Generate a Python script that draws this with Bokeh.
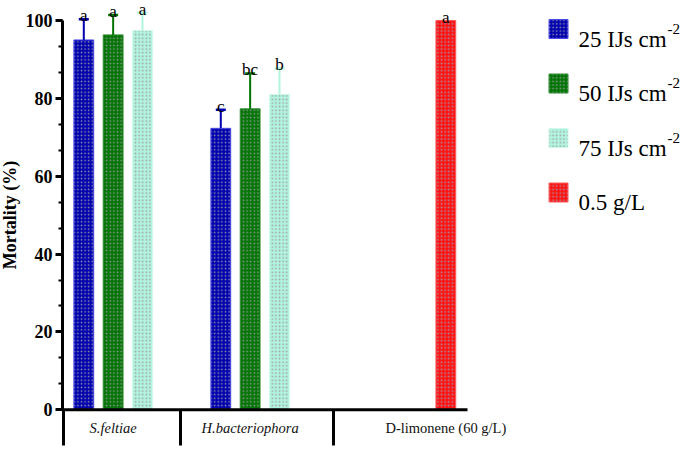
from bokeh.plotting import figure
from bokeh.models import Range1d, SingleIntervalTicker, ColumnDataSource
from bokeh.core.properties import value
from bokeh.embed import file_html
from bokeh.resources import INLINE

# ---------------- data ----------------
groups = ["S.feltiae", "H.bacteriophora", "D-limonene (60 g/L)"]
group_styles = ["italic", "italic", "normal"]
series_names = ["25 IJs cm", "50 IJs cm", "75 IJs cm", "0.5 g/L"]
series_sup = ["-2", "-2", "-2", ""]
series_colors = ["#0000b0", "#007400", "#b2f4dd", "#ff1414"]
series_edges = ["#4848e8", "#2a8a2a", "#cdfbec", "#ff5a5a"]

mort_25 = [95.0, 72.3, None]
mort_50 = [96.3, 77.3, None]
mort_75 = [97.4, 81.0, None]
mort_dlim = [None, None, 100.0]

err_25 = [5.3, 4.8, None]
err_50 = [5.1, 9.1, None]
err_75 = [4.6, 6.7, None]
err_dlim = [None, None, None]

letters_25 = ["a", "c", ""]
letters_50 = ["a", "bc", ""]
letters_75 = ["a", "b", ""]
letters_dlim = ["", "", "a"]

y_ticks = [0, 20, 40, 60, 80, 100]

# ---------------- layout ----------------
FONT = "Liberation Serif"
X0_PX, PX_PER_X = 83.3, 137.0      # canvas px of x=0, px per x unit
Y0_PX, PX_PER_Y = 409.3, 3.893     # canvas px of y=0, px per y unit
SLOT = 0.2142
BAR_W = 0.1445
AXIS_PX = 62
HATCH = dict(hatch_pattern="dot", hatch_color="#9a9aa6", hatch_scale=3.6,
             hatch_weight=1.1, hatch_alpha=0.9)


def px_x(px):
    return (px - X0_PX) / PX_PER_X


def px_y(py):
    return (Y0_PX - py) / PX_PER_Y


W, H = 685, 452
p = figure(width=W, height=H, output_backend="svg", toolbar_location=None,
           x_range=Range1d(px_x(0), px_x(W)),
           y_range=Range1d(px_y(H), px_y(0)),
           min_border_left=0, min_border_right=0, min_border_top=0,
           min_border_bottom=0)
p.outline_line_color = None
p.grid.visible = False
p.xaxis.visible = False
p.background_fill_color = "white"
p.border_fill_color = "white"

yax = p.yaxis[0]
yax.fixed_location = px_x(AXIS_PX)
yax.ticker = SingleIntervalTicker(interval=20, num_minor_ticks=3)
yax.bounds = (y_ticks[0], y_ticks[-1])
yax.axis_line_width = 3
yax.major_tick_line_width = 3
yax.minor_tick_line_width = 2
yax.major_tick_out = 7
yax.major_tick_in = 0
yax.minor_tick_out = 4
yax.minor_tick_in = 0
yax.major_label_standoff = 3
yax.major_label_text_font = FONT
yax.major_label_text_font_style = "bold"
yax.major_label_text_font_size = "18px"
yax.major_label_text_color = "black"
yax.axis_label = "Mortality (%)"
yax.axis_label_standoff = 3
yax.axis_label_text_font = FONT
yax.axis_label_text_font_style = "bold"
yax.axis_label_text_font_size = "18px"
yax.axis_label_text_color = "black"

# ---------------- bars ----------------
all_vals = [mort_25, mort_50, mort_75, mort_dlim]
all_errs = [err_25, err_50, err_75, err_dlim]
all_lets = [letters_25, letters_50, letters_75, letters_dlim]

bx, btop, bcol, bedge = [], [], [], []
ex, e0, e1, ecol = [], [], [], []
lx, ly, ltxt = [], [], []
group_x = {g: [] for g in range(len(groups))}
for s, (vals, errs, lets) in enumerate(zip(all_vals, all_errs, all_lets)):
    for g, v in enumerate(vals):
        if v is None:
            continue
        x = g + s * SLOT
        bx.append(x); btop.append(v)
        bcol.append(series_colors[s]); bedge.append(series_edges[s])
        group_x[g].append(x)
        top = v
        if errs[g]:
            top = v + errs[g]
            ex.append(x); e0.append(v); e1.append(top); ecol.append(series_colors[s])
        if lets[g]:
            lx.append(x); ly.append(top + 3.5 / PX_PER_Y); ltxt.append(lets[g])

p.vbar(x=bx, top=btop, bottom=0, width=BAR_W, fill_color=bcol, line_color=bedge,
       line_width=1, **HATCH)

cap = 5 / PX_PER_X
p.segment(x0=ex, y0=e0, x1=ex, y1=e1, line_color=ecol, line_width=2)
p.segment(x0=[x - cap for x in ex], y0=e1, x1=[x + cap for x in ex], y1=e1,
          line_color=ecol, line_width=2.5)

p.text(x=lx, y=ly, text=ltxt, text_align="center", text_baseline="alphabetic",
       text_font=value(FONT), text_font_size="17px", text_color="black")

# ---------------- category axis ----------------
p.segment(x0=[px_x(AXIS_PX - 1)], y0=[0], x1=[px_x(467)], y1=[0],
          line_color="black", line_width=3)
sep_px = [63, 180, 333]
p.segment(x0=[px_x(v) for v in sep_px], y0=[0] * 3,
          x1=[px_x(v) for v in sep_px], y1=[px_y(445)] * 3,
          line_color="black", line_width=3)
gsrc = ColumnDataSource(dict(
    x=[sum(group_x[g]) / len(group_x[g]) for g in range(len(groups))],
    y=[px_y(427)] * len(groups), text=groups, style=group_styles))
p.text(x="x", y="y", text="text", source=gsrc, text_align="center",
       text_baseline="middle", text_font=value(FONT), text_font_style="style",
       text_font_size="14.5px", text_color="#111111")

# ---------------- legend ----------------
row_y = [28.5 + 54.5 * i for i in range(len(series_names))]
sw = 19
p.rect(x=[px_x(558)] * 4, y=[px_y(v) for v in row_y], width=sw / PX_PER_X,
       height=sw / PX_PER_Y, fill_color=series_colors, line_color=series_edges,
       **HATCH)
p.text(x=[px_x(578)] * 4, y=[px_y(v + 10) for v in row_y], text=series_names,
       text_align="left", text_baseline="alphabetic", text_font=value(FONT),
       text_font_size="23px", text_color="black")
sup_rows = [i for i, s in enumerate(series_sup) if s]
p.text(x=[px_x(667)] * len(sup_rows), y=[px_y(row_y[i] - 0.5) for i in sup_rows],
       text=[series_sup[i] for i in sup_rows], text_align="left",
       text_baseline="alphabetic", text_font=value(FONT),
       text_font_size="15px", text_color="black")

open("out.html", "w").write(file_html(p, INLINE))
